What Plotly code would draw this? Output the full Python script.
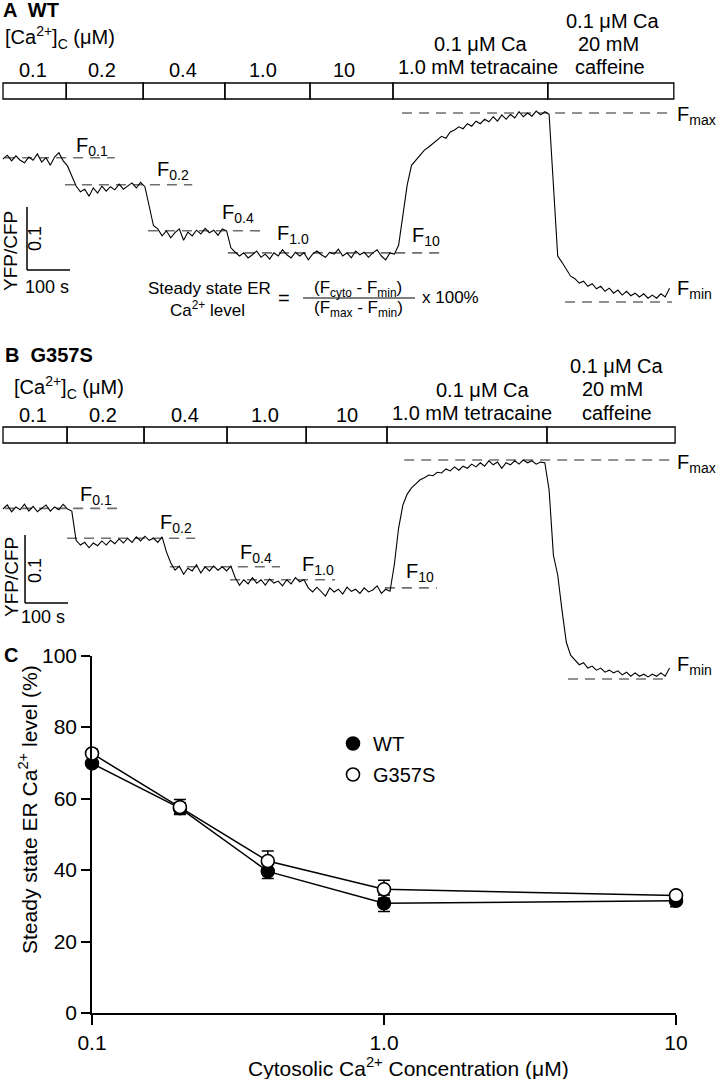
import plotly.graph_objects as go

W, H = 724, 1079
FONT = "Liberation Sans, Arial, sans-serif"

# ---------------- panels A and B: YFP/CFP ratio traces ----------------
SAMPLE_S = 10  # one sample every 10 s

wt_ratio = [
    1.227, 1.233, 1.224, 1.232, 1.225, 1.221, 1.230, 1.225, 1.235, 1.222,
    1.229, 1.217, 1.230, 1.237, 1.224, 1.216, 1.200, 1.184, 1.175, 1.179,
    1.168, 1.181, 1.173, 1.184, 1.176, 1.183, 1.178, 1.187, 1.179, 1.184,
    1.189, 1.181, 1.190, 1.183, 1.154, 1.121, 1.116, 1.105, 1.113, 1.102,
    1.110, 1.116, 1.098, 1.111, 1.105, 1.114, 1.108, 1.117, 1.110, 1.114,
    1.106, 1.116, 1.113, 1.086, 1.079, 1.073, 1.078, 1.070, 1.075, 1.081,
    1.071, 1.076, 1.068, 1.078, 1.073, 1.083, 1.075, 1.070, 1.079, 1.073,
    1.078, 1.067, 1.076, 1.081, 1.075, 1.071, 1.079, 1.076, 1.084, 1.073,
    1.078, 1.070, 1.081, 1.075, 1.079, 1.071, 1.078, 1.083, 1.073, 1.067,
    1.078, 1.076, 1.090, 1.138, 1.186, 1.217, 1.225, 1.232, 1.241, 1.246,
    1.252, 1.257, 1.263, 1.260, 1.270, 1.273, 1.278, 1.275, 1.283, 1.279,
    1.287, 1.283, 1.290, 1.286, 1.294, 1.287, 1.297, 1.290, 1.298, 1.292,
    1.302, 1.294, 1.300, 1.295, 1.303, 1.297, 1.302, 1.298, 1.178, 1.073,
    1.063, 1.051, 1.041, 1.037, 1.030, 1.033, 1.025, 1.029, 1.021, 1.025,
    1.017, 1.022, 1.014, 1.019, 1.011, 1.017, 1.010, 1.014, 1.008, 1.013,
    1.006, 1.011, 1.006, 1.013, 1.008, 1.022,
]

g357s_ratio = [
    1.250, 1.256, 1.246, 1.253, 1.249, 1.257, 1.247, 1.254, 1.246, 1.251,
    1.256, 1.247, 1.253, 1.249, 1.257, 1.250, 1.247, 1.204, 1.197, 1.201,
    1.193, 1.200, 1.196, 1.203, 1.197, 1.204, 1.199, 1.206, 1.200, 1.207,
    1.201, 1.209, 1.203, 1.210, 1.204, 1.207, 1.201, 1.209, 1.187, 1.171,
    1.160, 1.166, 1.154, 1.163, 1.159, 1.168, 1.156, 1.165, 1.159, 1.166,
    1.160, 1.165, 1.159, 1.166, 1.149, 1.138, 1.146, 1.140, 1.149, 1.141,
    1.146, 1.138, 1.147, 1.141, 1.144, 1.137, 1.146, 1.140, 1.149, 1.143,
    1.146, 1.134, 1.128, 1.135, 1.129, 1.122, 1.134, 1.128, 1.132, 1.125,
    1.135, 1.129, 1.132, 1.126, 1.134, 1.128, 1.131, 1.137, 1.126, 1.132,
    1.129, 1.168, 1.222, 1.256, 1.272, 1.281, 1.287, 1.293, 1.296, 1.300,
    1.299, 1.304, 1.303, 1.309, 1.306, 1.312, 1.307, 1.313, 1.310, 1.316,
    1.312, 1.318, 1.313, 1.321, 1.315, 1.319, 1.310, 1.318, 1.315, 1.321,
    1.316, 1.322, 1.318, 1.321, 1.316, 1.319, 1.318, 1.278, 1.182, 1.153,
    1.101, 1.054, 1.035, 1.028, 1.021, 1.024, 1.016, 1.019, 1.013, 1.016,
    1.010, 1.013, 1.009, 1.012, 1.006, 1.010, 1.004, 1.009, 1.004, 1.007,
    1.003, 1.007, 1.004, 1.009, 1.004, 1.016,
]

# steady-state levels: F0.1, F0.2, F0.4, F1.0, F10, Fmax, Fmin
level_subs = ["0.1", "0.2", "0.4", "1.0", "10", "max", "min"]
wt_levels = [1.229, 1.186, 1.113, 1.078, 1.078, 1.300, 1.000]
g357s_levels = [1.251, 1.207, 1.165, 1.146, 1.134, 1.322, 1.000]
wt_level_spans = [(5, 260), (144, 440), (337, 598), (523, 912), (912, 1021),
                  (928, 1560), (1307, 1556)]
g357s_level_spans = [(5, 265), (149, 447), (388, 644), (528, 772), (888, 1009),
                     (933, 1560), (1314, 1540)]

# solution changes (s)
conc_labels = ["0.1", "0.2", "0.4", "1.0", "10"]
wt_solution_edges = [0, 147, 326, 516, 714, 907, 1267, 1560]
g357s_solution_edges = [0, 149, 328, 521, 705, 893, 1265, 1563]

# ---------------- panel C ----------------
ca_cyto = [0.1, 0.2, 0.4, 1.0, 10]
wt_er = [69.8, 57.3, 39.6, 30.7, 31.4]
wt_sem = [1.0, 1.5, 2.0, 2.3, 1.7]
g357s_er = [72.6, 57.6, 42.5, 34.6, 32.9]
g357s_sem = [1.2, 2.1, 2.8, 2.5, 1.0]


def px(x):
    return x / W


def py(y):
    return 1 - y / H


annotations = []
shapes = []


def label(text, x, y, size=20, xanchor="left", angle=0):
    annotations.append(dict(
        text=text, x=px(x), y=py(y), xref="paper", yref="paper",
        xanchor=xanchor, yanchor="middle", showarrow=False, textangle=angle,
        font=dict(size=size, color="black", family=FONT),
    ))


fig = go.Figure()

panels = [
    ("x", "y", wt_ratio, wt_levels, wt_level_spans),
    ("x2", "y2", g357s_ratio, g357s_levels, g357s_level_spans),
]
for xa, ya, ratio, levels, spans in panels:
    for lvl, (t0, t1) in zip(levels, spans):
        fig.add_trace(go.Scatter(
            x=[t0, t1], y=[lvl, lvl], mode="lines", xaxis=xa, yaxis=ya,
            line=dict(color="#6e6e6e", width=1.6, dash="10px,7px"),
            showlegend=False, hoverinfo="skip",
        ))
    fig.add_trace(go.Scatter(
        x=[i * SAMPLE_S for i in range(len(ratio))], y=ratio,
        mode="lines", xaxis=xa, yaxis=ya,
        line=dict(color="black", width=1.1),
        showlegend=False,
    ))

# solution boxes
for xa, edges, top, bot in [("x", wt_solution_edges, 83, 99),
                            ("x2", g357s_solution_edges, 427, 443)]:
    for a, b in zip(edges[:-1], edges[1:]):
        shapes.append(dict(type="rect", xref=xa, yref="paper", x0=a, x1=b,
                           y0=py(bot), y1=py(top),
                           line=dict(color="black", width=1.3)))

# scale bars (100 s, 0.1 ratio)
for xa, ya, t0, r0 in [("x", "y", 55.8, 1.0508), ("x2", "y2", 51.2, 1.1118)]:
    shapes.append(dict(type="line", xref=xa, yref=ya, x0=t0, x1=t0,
                       y0=r0, y1=r0 + 0.1, line=dict(color="black", width=1.5)))
    shapes.append(dict(type="line", xref=xa, yref=ya, x0=t0, x1=t0 + 100,
                       y0=r0, y1=r0, line=dict(color="black", width=1.5)))

# panel headers and solution labels
label("<b>A  WT</b>", 1, 10)
label("[Ca<sup>2+</sup>]<sub>C</sub> (μM)", 3, 38)
label("<b>B  G357S</b>", 3, 355)
label("[Ca<sup>2+</sup>]<sub>C</sub> (μM)", 12, 387)
for lab, xa, xb in zip(conc_labels, [33, 102, 183, 263, 344], [33, 103, 185, 265, 347]):
    label(lab, xa, 70, xanchor="center")
    label(lab, xb, 415, xanchor="center")
label("0.1 μM Ca", 481, 44, xanchor="center")
label("1.0 mM tetracaine", 478, 67, xanchor="center")
label("0.1 μM Ca", 613, 21, xanchor="center")
label("20 mM", 608, 44, xanchor="center")
label("caffeine", 610, 67, xanchor="center")
label("0.1 μM Ca", 483, 390, xanchor="center")
label("1.0 mM tetracaine", 472, 413, xanchor="center")
label("0.1 μM Ca", 617, 366, xanchor="center")
label("20 mM", 612, 389, xanchor="center")
label("caffeine", 617, 413, xanchor="center")

# F labels
wt_lab_pos = [(74, 146), (155, 170), (220, 213), (275, 235), (410, 237), (675, 116), (675, 290)]
g_lab_pos = [(78, 495), (158, 523), (238, 553), (300, 565), (404, 572), (675, 463), (675, 665)]
for sub, (xa, ya), (xb, yb) in zip(level_subs, wt_lab_pos, g_lab_pos):
    label(f"F<sub>{sub}</sub>", xa, ya)
    label(f"F<sub>{sub}</sub>", xb, yb)

# scale-bar text
label("YFP/CFP", 11, 251, size=19, xanchor="center", angle=-90)
label("0.1", 35, 239, size=18, xanchor="center", angle=-90)
label("100 s", 47, 287, size=18, xanchor="center")
label("YFP/CFP", 11, 577, size=19, xanchor="center", angle=-90)
label("0.1", 35, 571, size=18, xanchor="center", angle=-90)
label("100 s", 43, 617, size=18, xanchor="center")

# formula
label("Steady state ER", 209, 288, size=17, xanchor="center")
label("Ca<sup>2+</sup> level", 207, 309, size=17, xanchor="center")
label("=", 284, 298, size=20, xanchor="center")
label("(F<sub>cyto</sub> - F<sub>min</sub>)", 358, 289, size=17, xanchor="center")
label("(F<sub>max</sub> - F<sub>min</sub>)", 358, 309, size=17, xanchor="center")
label("x 100%", 420, 298, size=17)
shapes.append(dict(type="line", xref="paper", yref="paper", x0=px(303), x1=px(415),
                   y0=py(298), y1=py(298), line=dict(color="black", width=1.2)))

# ---------------- panel C traces ----------------
fig.add_trace(go.Scatter(
    x=ca_cyto, y=wt_er, mode="lines+markers", xaxis="x3", yaxis="y3",
    error_y=dict(type="data", array=wt_sem, color="black", thickness=1.5, width=6),
    line=dict(color="black", width=1.5),
    marker=dict(size=13, color="black", line=dict(color="black", width=1.5)),
    cliponaxis=False, showlegend=False,
))
fig.add_trace(go.Scatter(
    x=ca_cyto, y=g357s_er, mode="lines+markers", xaxis="x3", yaxis="y3",
    error_y=dict(type="data", array=g357s_sem, color="black", thickness=1.5, width=6),
    line=dict(color="black", width=1.5),
    marker=dict(size=13, color="white", line=dict(color="black", width=1.6)),
    cliponaxis=False, showlegend=False,
))
# legend entries (markers only)
for name, fill in [("WT", "black"), ("G357S", "white")]:
    fig.add_trace(go.Scatter(
        x=[None], y=[None], mode="markers", name=name, xaxis="x3", yaxis="y3",
        legendgroup=name,
        marker=dict(size=13, color=fill, line=dict(color="black", width=1.6)),
    ))

label("<b>C</b>", 2, 655)
label("Steady state ER Ca<sup>2+</sup> level (%)", 28, 810, size=21, xanchor="center", angle=-90)
label("Cytosolic Ca<sup>2+</sup> Concentration (μM)", 408, 1067, size=21, xanchor="center")

hidden = dict(visible=False, fixedrange=True)
fig.update_layout(
    width=W, height=H,
    margin=dict(l=0, r=0, t=0, b=0, autoexpand=False),
    paper_bgcolor="white", plot_bgcolor="rgba(0,0,0,0)",
    font=dict(family=FONT, size=20, color="black"),
    xaxis=dict(domain=[0, 1], range=[-6.98, 1676.7], anchor="y", **hidden),
    yaxis=dict(domain=[py(330), py(100)], range=[0.9556, 1.3206], anchor="x", **hidden),
    xaxis2=dict(domain=[0, 1], range=[-6.98, 1676.7], anchor="y2", **hidden),
    yaxis2=dict(domain=[py(700), py(450)], range=[0.9691, 1.3368], anchor="x2", **hidden),
    xaxis3=dict(
        type="log", domain=[px(92), px(676)], range=[-1, 1], anchor="y3",
        tickvals=[0.1, 1, 10], ticktext=["0.1", "1.0", "10"],
        showline=True, linecolor="black", linewidth=1.5,
        ticks="outside", ticklen=10, tickwidth=1.5, tickcolor="black",
        showgrid=False, zeroline=False, tickfont=dict(size=21),
    ),
    yaxis3=dict(
        domain=[py(1013), py(655.5)], range=[0, 100], anchor="x3",
        tickvals=[0, 20, 40, 60, 80, 100],
        showline=True, linecolor="black", linewidth=1.5,
        ticks="outside", ticklen=9, tickwidth=1.5, tickcolor="black",
        showgrid=False, zeroline=False, tickfont=dict(size=21),
    ),
    showlegend=True,
    legend=dict(x=px(333), y=py(724), xanchor="left", yanchor="top",
                font=dict(size=20), bgcolor="rgba(0,0,0,0)", tracegroupgap=2),
    annotations=annotations,
    shapes=shapes,
)

# the page body has a default 8 px margin; drop it so the figure fills the window
fig.write_html("out.html", config={"displayModeBar": False},
               post_script="document.body.style.margin = '0';")
